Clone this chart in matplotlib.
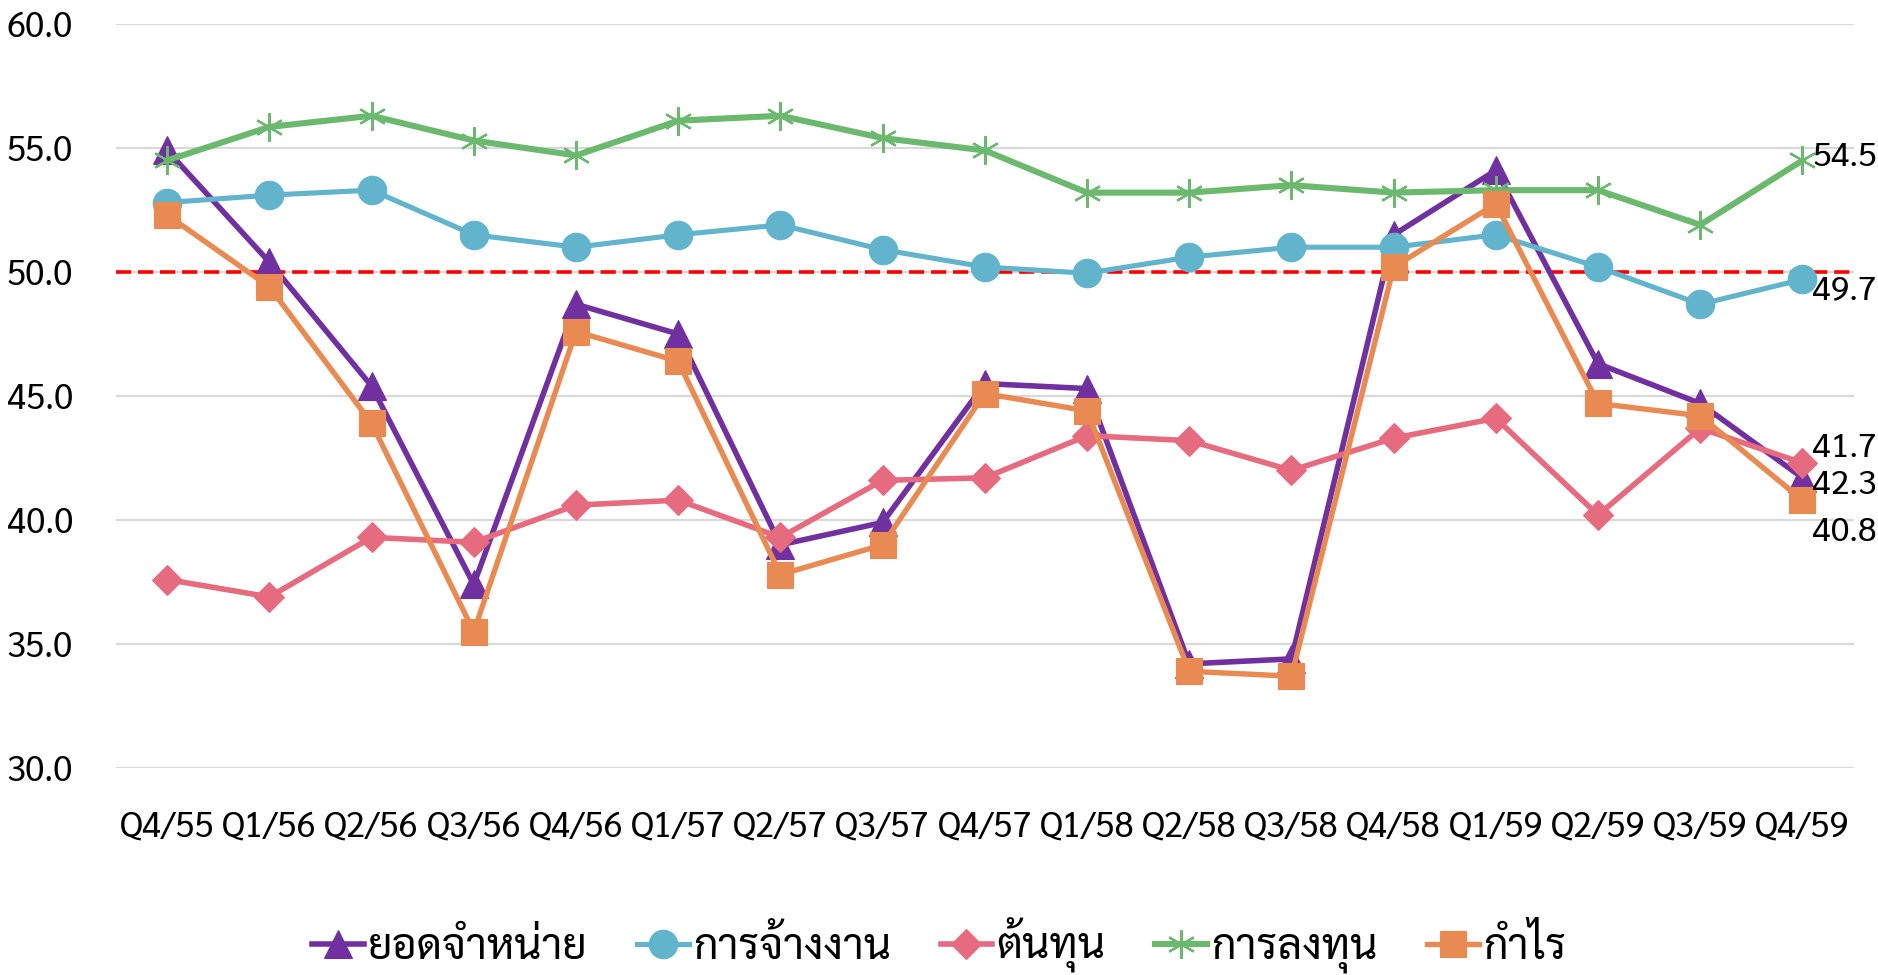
import matplotlib
matplotlib.use("Agg")
import matplotlib.pyplot as plt
import numpy as np

plt.rcParams["font.family"] = ["Sarabun", "DejaVu Sans"]

quarters = ["Q4/55", "Q1/56", "Q2/56", "Q3/56", "Q4/56", "Q1/57", "Q2/57", "Q3/57", "Q4/57",
            "Q1/58", "Q2/58", "Q3/58", "Q4/58", "Q1/59", "Q2/59", "Q3/59", "Q4/59"]

sales = [54.9, 50.4, 45.4, 37.4, 48.7, 47.5, 39.0, 39.9, 45.5,
         45.3, 34.2, 34.4, 51.5, 54.1, 46.3, 44.7, 41.7]
employment = [52.8, 53.1, 53.3, 51.5, 51.0, 51.5, 51.9, 50.9, 50.2,
              49.95, 50.6, 51.0, 51.0, 51.5, 50.2, 48.7, 49.7]
cost = [37.6, 36.9, 39.3, 39.1, 40.6, 40.8, 39.3, 41.6, 41.7,
        43.4, 43.2, 42.0, 43.3, 44.1, 40.2, 43.7, 42.3]
investment = [54.5, 55.85, 56.3, 55.3, 54.7, 56.1, 56.3, 55.4, 54.9,
              53.2, 53.2, 53.5, 53.2, 53.3, 53.3, 51.9, 54.5]
profit = [52.3, 49.4, 43.9, 35.5, 47.6, 46.4, 37.8, 39.0, 45.1,
          44.4, 33.9, 33.7, 50.2, 52.75, 44.7, 44.2, 40.8]

series_names = ["ยอดจำหน่าย", "การจ้างงาน", "ต้นทุน", "การลงทุน", "กำไร"]
y_ticks = [30.0, 35.0, 40.0, 45.0, 50.0, 55.0, 60.0]
threshold = 50.0

fig = plt.figure(figsize=(18.78, 9.75), dpi=100)
ax = fig.add_axes([0.0618, 0.2123, 0.9252, 0.7631])

x = np.arange(len(quarters))
styles = [
    dict(color="#7030A0", marker="^", ms=20.5, lw=4.0),
    dict(color="#62B4CC", marker="o", ms=20.5, lw=3.7),
    dict(color="#E76B7F", marker="D", ms=15, lw=4.0),
    dict(color="#6BB96E", marker=(6, 2, 0), ms=20.5, lw=4.4),
    dict(color="#E88A52", marker="s", ms=19, lw=3.9),
]
data = [sales, employment, cost, investment, profit]

handles = []
for vals, name, st in zip(data, series_names, styles):
    mew = 1.6 if st["marker"] == (6, 2, 0) else 0.8
    h, = ax.plot(x, vals, color=st["color"], lw=st["lw"], marker=st["marker"],
                 ms=st["ms"], mfc=st["color"], mec=st["color"], mew=mew,
                 label=name, solid_joinstyle="round", clip_on=False)
    handles.append(h)

ax.axhline(threshold, color="#FF0000", lw=2.6, dashes=(4.2, 1.9), zorder=1.5)

# end-of-series value labels
label_offsets = {0: (7, 21), 1: (7, -8), 2: (7, -16), 3: (7, 2), 4: (7, -23)}
for i, vals in enumerate(data):
    dx, dy = label_offsets[i]
    ax.annotate(f"{vals[-1]:.1f}", xy=(x[-1], vals[-1]), xytext=(dx, dy),
                textcoords="offset points", ha="left", va="center",
                fontsize=24.5, color="black", annotation_clip=False)

ax.set_xlim(-0.5, len(quarters) - 0.5)
ax.set_ylim(30, 60)
ax.set_yticks(y_ticks)
ax.set_yticklabels([f"{t:.1f}" for t in y_ticks])
ax.set_xticks(x)
ax.set_xticklabels(quarters)
ax.tick_params(axis="both", length=0, labelsize=25, colors="black")
ax.tick_params(axis="y", pad=31)
ax.tick_params(axis="x", pad=30)
ax.grid(axis="y", color="#D9D9D9", lw=1.6)
ax.set_axisbelow(True)
for sp in ax.spines.values():
    sp.set_visible(False)

fig.legend(handles=handles, loc="center", bbox_to_anchor=(0.5, 0.03), ncol=5,
           frameon=False, fontsize=31, handlelength=1.2, handletextpad=0.1,
           columnspacing=1.15, borderaxespad=0)

fig.savefig("out.png", dpi=100)
